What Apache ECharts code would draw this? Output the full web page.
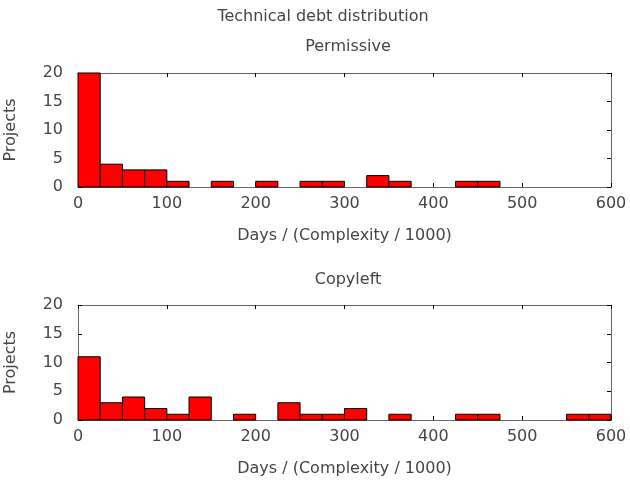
<!DOCTYPE html>
<html>
<head>
<meta charset="utf-8">
<script src="https://cdn.jsdelivr.net/npm/echarts@6/dist/echarts.min.js"></script>
<style>
  html, body { margin: 0; padding: 0; background: #fff; }
  #chart { width: 630px; height: 485px; }
</style>
</head>
<body>
<div id="chart"></div>
<script>
// histogram bins, width 25
const binStart = [0, 25, 50, 75, 100, 125, 150, 175, 200, 225, 250, 275,
  300, 325, 350, 375, 400, 425, 450, 475, 500, 525, 550, 575]
const binWidth = 25
const permissive = [20, 4, 3, 3, 1, 0, 1, 0, 1, 0, 1, 1,
  0, 2, 1, 0, 0, 1, 1, 0, 0, 0, 0, 0]
const copyleft = [11, 3, 4, 2, 1, 4, 0, 1, 0, 3, 1, 1,
  2, 0, 1, 0, 0, 1, 1, 0, 0, 0, 1, 1]
const panelTitles = ['Permissive', 'Copyleft']
const xTitle = 'Days / (Complexity / 1000)'
const yTitle = 'Projects'

const font = 'DejaVu Sans'
const textColor = '#454545'
const borderColor = '#666'

function bins (counts) {
  return binStart.map((s, i) => [s, s + binWidth, counts[i]]).filter(d => d[2] > 0)
}

function renderBar (params, api) {
  const p0 = api.coord([api.value(0), api.value(2)])
  const p1 = api.coord([api.value(1), 0])
  return {
    type: 'rect',
    shape: { x: p0[0], y: p0[1], width: p1[0] - p0[0], height: p1[1] - p0[1] },
    style: { fill: '#ff0000', stroke: '#000', lineWidth: 1 }
  }
}

const grids = [
  { left: 78, right: 19, top: 73, height: 114, outerBoundsMode: 'none', containLabel: false },
  { left: 78, right: 19, top: 305, height: 115, outerBoundsMode: 'none', containLabel: false }
]

const xAxes = []
const yAxes = []
grids.forEach((g, i) => {
  const line = { show: true, onZero: false, lineStyle: { color: borderColor, width: 1 } }
  const tick = { show: true, inside: true, length: 4, lineStyle: { color: '#000' } }
  xAxes.push({
    type: 'value', gridIndex: i, min: 0, max: 600, interval: 100, position: 'bottom',
    axisLine: line, axisTick: tick, splitLine: { show: false },
    axisLabel: { color: textColor, fontFamily: font, fontSize: 16, margin: 9 },
    name: xTitle, nameLocation: 'middle', nameGap: 41,
    nameTextStyle: { color: textColor, fontFamily: font, fontSize: 16 }
  })
  xAxes.push({
    type: 'value', gridIndex: i, min: 0, max: 600, interval: 100, position: 'top',
    axisLine: line, axisTick: tick, axisLabel: { show: false }, splitLine: { show: false }
  })
  yAxes.push({
    type: 'value', gridIndex: i, min: 0, max: 20, interval: 5, position: 'left',
    axisLine: line, axisTick: tick, splitLine: { show: false },
    axisLabel: { color: textColor, fontFamily: font, fontSize: 16, margin: 15 },
    name: yTitle, nameLocation: 'middle', nameGap: 59,
    nameTextStyle: { color: textColor, fontFamily: font, fontSize: 16 }
  })
  yAxes.push({
    type: 'value', gridIndex: i, min: 0, max: 20, interval: 5, position: 'right',
    axisLine: line, axisTick: tick, axisLabel: { show: false }, splitLine: { show: false }
  })
})

const titleStyle = { color: textColor, fontFamily: font, fontSize: 16, fontWeight: 'normal' }
const option = {
  animation: false,
  backgroundColor: '#fff',
  title: [
    { text: 'Technical debt distribution', left: 318, top: 4, textAlign: 'center', textStyle: titleStyle },
    { text: panelTitles[0], left: 343, top: 34, textAlign: 'center', textStyle: titleStyle },
    { text: panelTitles[1], left: 343, top: 267, textAlign: 'center', textStyle: titleStyle }
  ],
  grid: grids,
  xAxis: xAxes,
  yAxis: yAxes,
  series: [
    { name: panelTitles[0], type: 'custom', xAxisIndex: 0, yAxisIndex: 0,
      renderItem: renderBar, data: bins(permissive) },
    { name: panelTitles[1], type: 'custom', xAxisIndex: 2, yAxisIndex: 2,
      renderItem: renderBar, data: bins(copyleft) }
  ]
}

const chart = echarts.init(document.getElementById('chart'), null, { renderer: 'canvas' })
chart.setOption(option)
</script>
</body>
</html>
